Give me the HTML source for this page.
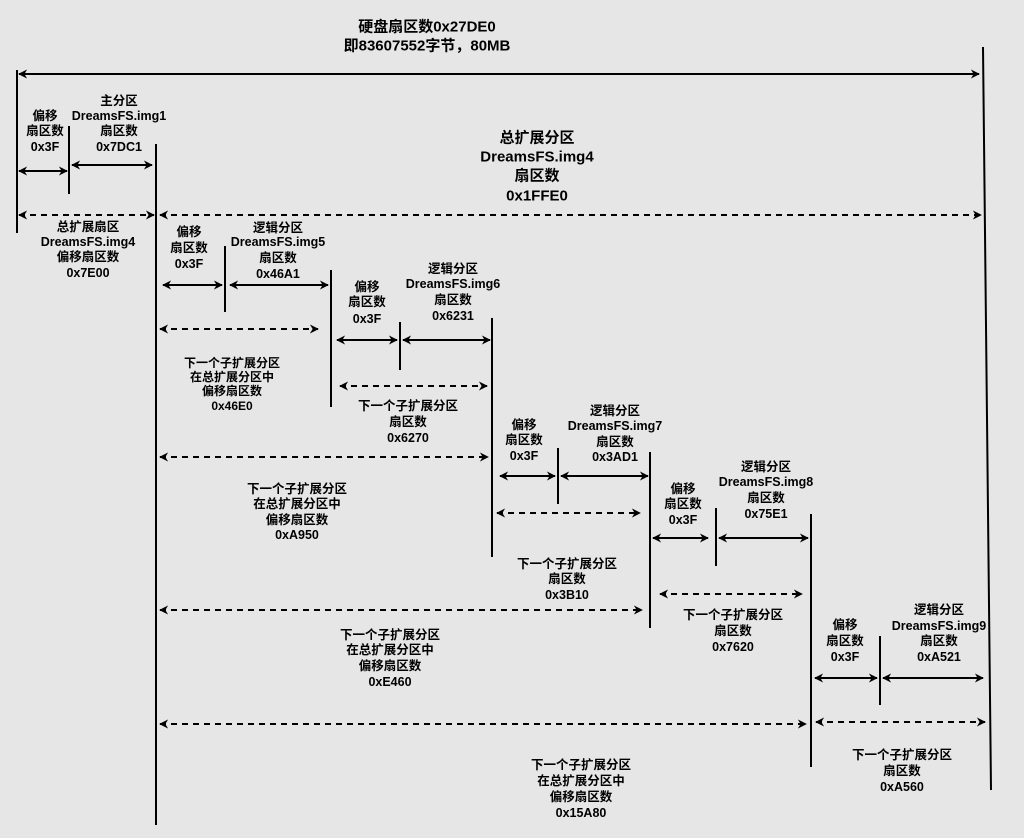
<!DOCTYPE html>
<html><head><meta charset="utf-8"><style>
html,body{margin:0;padding:0;background:#e6e6e6;}
svg{display:block}
text{font-family:"Liberation Sans","Noto Sans CJK SC",sans-serif;font-weight:bold;fill:#000;text-anchor:middle;dominant-baseline:central;font-size:12.5px}
.t{font-size:15px}
.s{font-size:12px}
</style></head><body>
<svg width="1024" height="838" viewBox="0 0 1024 838" xmlns="http://www.w3.org/2000/svg">
<defs>
<marker id="a" viewBox="0 0 10 10" refX="9" refY="5" markerWidth="9" markerHeight="9" markerUnits="userSpaceOnUse" orient="auto-start-reverse"><path d="M0,0 L10,5 L0,10 L3,5 z" fill="#000"/></marker>
</defs>
<rect width="1024" height="838" fill="#e6e6e6"/>
<g stroke="#000" stroke-width="2" fill="none">
<line x1="17" y1="70" x2="17" y2="233"/>
<line x1="69" y1="126" x2="69" y2="194"/>
<line x1="156" y1="144" x2="156" y2="825"/>
<line x1="225" y1="246" x2="225" y2="312"/>
<line x1="331" y1="270" x2="331" y2="407"/>
<line x1="400" y1="322" x2="400" y2="370"/>
<line x1="492" y1="318" x2="492" y2="557"/>
<line x1="558" y1="448" x2="558" y2="504"/>
<line x1="650" y1="452" x2="650" y2="628"/>
<line x1="716" y1="508" x2="716" y2="566"/>
<line x1="811" y1="514" x2="811" y2="767"/>
<line x1="880" y1="636" x2="880" y2="705"/>
<line x1="983" y1="47" x2="991" y2="790"/>
</g>
<g stroke="#000" stroke-width="2" fill="none" marker-start="url(#a)" marker-end="url(#a)">
<line x1="19" y1="74" x2="979" y2="74"/>
<line x1="19" y1="171" x2="67" y2="171"/>
<line x1="72" y1="165" x2="152" y2="165"/>
<line x1="163" y1="285" x2="222" y2="285"/>
<line x1="230" y1="285" x2="328" y2="285"/>
<line x1="337" y1="340" x2="397" y2="340"/>
<line x1="403" y1="340" x2="490" y2="340"/>
<line x1="500" y1="476" x2="555" y2="476"/>
<line x1="561" y1="476" x2="648" y2="476"/>
<line x1="653" y1="538" x2="708" y2="538"/>
<line x1="719" y1="538" x2="808" y2="538"/>
<line x1="815" y1="678" x2="877" y2="678"/>
<line x1="883" y1="678" x2="983" y2="678"/>
</g>
<g stroke="#000" stroke-width="2" fill="none" stroke-dasharray="6,5" marker-start="url(#a)" marker-end="url(#a)">
<line x1="19" y1="215" x2="154" y2="215"/>
<line x1="160" y1="215" x2="981" y2="215"/>
<line x1="160" y1="329" x2="318" y2="329"/>
<line x1="340" y1="386" x2="487" y2="386"/>
<line x1="160" y1="457" x2="488" y2="457"/>
<line x1="497" y1="513" x2="640" y2="513"/>
<line x1="660" y1="594" x2="802" y2="594"/>
<line x1="160" y1="610" x2="642" y2="610"/>
<line x1="816" y1="722" x2="985" y2="722"/>
<line x1="160" y1="724" x2="806" y2="724"/>
</g>
<text class="t" x="427" y="27">硬盘扇区数0x27DE0</text>
<text class="t" x="427" y="46">即83607552字节，80MB</text>
<text x="45" y="116">偏移</text><text x="45" y="131">扇区数</text><text x="45" y="147">0x3F</text>
<text x="119" y="101">主分区</text><text x="119" y="116">DreamsFS.img1</text><text x="119" y="131">扇区数</text><text x="119" y="147">0x7DC1</text>
<text class="t" x="537" y="138">总扩展分区</text><text class="t" x="537" y="157">DreamsFS.img4</text><text class="t" x="537" y="176">扇区数</text><text class="t" x="537" y="196">0x1FFE0</text>
<text x="88" y="227">总扩展扇区</text><text x="88" y="242">DreamsFS.img4</text><text x="88" y="257">偏移扇区数</text><text x="88" y="273">0x7E00</text>
<text x="189" y="232">偏移</text><text x="189" y="248">扇区数</text><text x="189" y="264">0x3F</text>
<text x="278" y="228">逻辑分区</text><text x="278" y="242">DreamsFS.img5</text><text x="278" y="258">扇区数</text><text x="278" y="274">0x46A1</text>
<text x="367" y="287">偏移</text><text x="367" y="302">扇区数</text><text x="367" y="319">0x3F</text>
<text x="453" y="269">逻辑分区</text><text x="453" y="284">DreamsFS.img6</text><text x="453" y="300">扇区数</text><text x="453" y="316">0x6231</text>
<text class="s" x="232" y="363">下一个子扩展分区</text><text class="s" x="232" y="377">在总扩展分区中</text><text class="s" x="232" y="391">偏移扇区数</text><text class="s" x="232" y="406">0x46E0</text>
<text x="408" y="406">下一个子扩展分区</text><text x="408" y="422">扇区数</text><text x="408" y="438">0x6270</text>
<text x="524" y="425">偏移</text><text x="524" y="440">扇区数</text><text x="524" y="456">0x3F</text>
<text x="615" y="411">逻辑分区</text><text x="615" y="426">DreamsFS.img7</text><text x="615" y="442">扇区数</text><text x="615" y="457">0x3AD1</text>
<text x="297" y="489">下一个子扩展分区</text><text x="297" y="504">在总扩展分区中</text><text x="297" y="520">偏移扇区数</text><text x="297" y="535">0xA950</text>
<text x="683" y="489">偏移</text><text x="683" y="504">扇区数</text><text x="683" y="520">0x3F</text>
<text x="766" y="467">逻辑分区</text><text x="766" y="482">DreamsFS.img8</text><text x="766" y="498">扇区数</text><text x="766" y="514">0x75E1</text>
<text x="567" y="564">下一个子扩展分区</text><text x="567" y="579">扇区数</text><text x="567" y="595">0x3B10</text>
<text x="733" y="615">下一个子扩展分区</text><text x="733" y="631">扇区数</text><text x="733" y="647">0x7620</text>
<text x="390" y="635">下一个子扩展分区</text><text x="390" y="650">在总扩展分区中</text><text x="390" y="666">偏移扇区数</text><text x="390" y="682">0xE460</text>
<text x="845" y="625">偏移</text><text x="845" y="641">扇区数</text><text x="845" y="657">0x3F</text>
<text x="939" y="610">逻辑分区</text><text x="939" y="626">DreamsFS.img9</text><text x="939" y="641">扇区数</text><text x="939" y="657">0xA521</text>
<text x="902" y="755">下一个子扩展分区</text><text x="902" y="771">扇区数</text><text x="902" y="787">0xA560</text>
<text x="581" y="765">下一个子扩展分区</text><text x="581" y="781">在总扩展分区中</text><text x="581" y="797">偏移扇区数</text><text x="581" y="813">0x15A80</text>
</svg>
</body></html>
